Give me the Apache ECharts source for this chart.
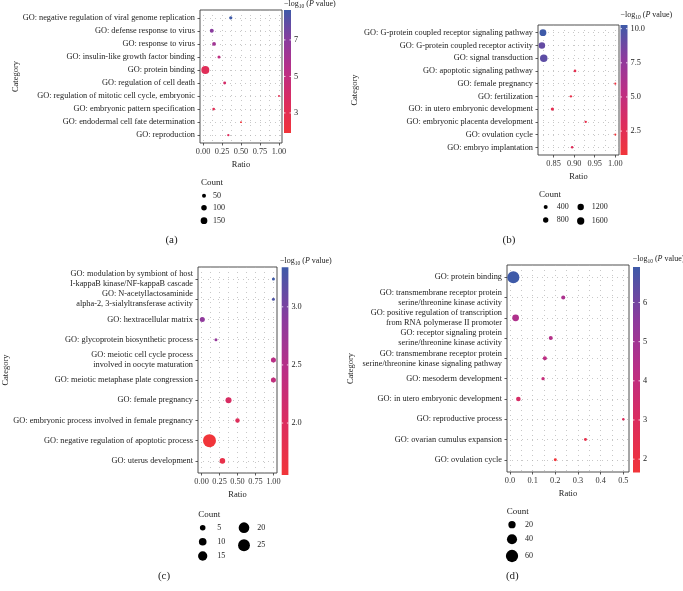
<!DOCTYPE html>
<html><head><meta charset="utf-8">
<script src="https://cdn.jsdelivr.net/npm/echarts@6/dist/echarts.min.js"></script>
<style>html,body{margin:0;padding:0;background:#fff}#c{width:683px;height:591px}</style>
</head><body><div id="c"></div>
<script>
// ---------- DATA ----------
const catsA = ['GO: negative regulation of viral genome replication','GO: defense response to virus','GO: response to virus','GO: insulin-like growth factor binding','GO: protein binding','GO: regulation of cell death','GO: regulation of mitotic cell cycle, embryonic','GO: embryonic pattern specification','GO: endodermal cell fate determination','GO: reproduction'];
const ratioA = [0.365, 0.115, 0.145, 0.21, 0.03, 0.285, 1.0, 0.14, 0.5, 0.333];
const countA = [32, 50, 45, 26, 215, 25, 8, 20, 8, 13];
const logpA  = [8.64, 7.0, 6.2, 5.0, 3.3, 4.0, 3.0, 3.2, 1.9, 3.5];
const xTicksA = [0, 0.25, 0.5, 0.75, 1];
const colorTicksA = [3, 5, 7];
const sizeBreaksA = [50, 100, 150];

const catsB = ['GO: G-protein coupled receptor signaling pathway','GO: G-protein coupled receptor activity','GO: signal transduction','GO: apoptotic signaling pathway','GO: female pregnancy','GO: fertilization','GO: in utero embryonic development','GO: embryonic placenta development','GO: ovulation cycle','GO: embryo implantation'];
const ratioB = [0.824, 0.8215, 0.826, 0.902, 1.0, 0.892, 0.847, 0.928, 1.0, 0.895];
const countB = [1400, 1250, 1700, 90, 10, 60, 220, 60, 10, 70];
const logpB  = [10.27, 9.1, 9.3, 2.2, 1.2, 1.9, 2.3, 2.0, 0.75, 2.8];
const xTicksB = [0.85, 0.9, 0.95, 1.0];
const colorTicksB = [2.5, 5.0, 7.5, 10.0];
const sizeBreaksB = [400, 800, 1200, 1600];

const catsC = ['GO: modulation by symbiont of host\nI-kappaB kinase/NF-kappaB cascade','GO: N-acetyllactosaminide\nalpha-2, 3-sialyltransferase activity','GO: hextracellular matrix','GO: glycoprotein biosynthetic process','GO: meiotic cell cycle process\ninvolved in oocyte maturation','GO: meiotic metaphase plate congression','GO: female pregnancy','GO: embryonic process involved in female pregnancy','GO: negative regulation of apoptotic process','GO: uterus development'];
const ratioC = [1.0, 1.0, 0.01, 0.2, 1.0, 1.0, 0.375, 0.5, 0.11, 0.29];
const countC = [1, 1, 4, 1, 4, 4, 6, 3, 30, 5];
const logpC  = [3.34, 3.25, 2.85, 2.8, 2.45, 2.35, 2.05, 1.95, 1.553, 1.75];
const xTicksC = [0, 0.25, 0.5, 0.75, 1];
const colorTicksC = [2.0, 2.5, 3.0];
const sizeBreaksC = [5, 10, 15, 20, 25];

const catsD = ['GO: protein binding','GO: transmembrane receptor protein\nserine/threonine kinase activity','GO: positive regulation of transcription\nfrom RNA polymerase II promoter','GO: receptor signaling protein\nserine/threonine kinase activity','GO: transmembrane receptor protein\nserine/threonine kinase signaling pathway','GO: mesoderm development','GO: in utero embryonic development','GO: reproductive process','GO: ovarian cumulus expansion','GO: ovulation cycle'];
const ratioD = [0.015, 0.235, 0.025, 0.18, 0.154, 0.146, 0.037, 0.5, 0.333, 0.2];
const countD = [58, 5, 17, 5, 5, 3, 7, 1, 2, 2];
const logpD  = [6.907, 4.7, 4.6, 4.45, 4.2, 3.9, 3.2, 2.9, 2.3, 1.659];
const xTicksD = [0, 0.1, 0.2, 0.3, 0.4, 0.5];
const colorTicksD = [2, 3, 4, 5, 6];
const sizeBreaksD = [20, 40, 60];

// ---------- STYLE / LAYOUT ----------
const FONT = '"Liberation Serif", "DejaVu Serif", serif';
const GRAD = ['#f1353a', '#dc2c5e', '#bb2e86', '#8b3b9e', '#3e5aa8']; // low -> high
const gridLine = {color:'#b0b0b0', width:0.7, type:[1,4]};

const panels = [
 {cats:catsA, ratio:ratioA, count:countA, logp:logpA, xTicks:xTicksA, xDec:2, xMin:-0.04, xMax:1.04,
  box:[200,10,82,133], sz:[1.5,0.29], bar:[284,10,7,123], cTicks:colorTicksA, cDec:0, title:[284,4],
  breaks:sizeBreaksA, legTitle:[201,183], legDots:[[204,195.7],[204,207.7],[204,220.7]], legLabX:[213,213,213],
  ycat:[15.5,76.5], tag:['(a)',171.5,240]},
 {cats:catsB, ratio:ratioB, count:countB, logp:logpB, xTicks:xTicksB, xDec:2, xMin:0.812, xMax:1.009,
  box:[538,25,81,130], sz:[4,0.0306], bar:[620.5,25,7,130], cTicks:colorTicksB, cDec:1, title:[620.5,15],
  breaks:sizeBreaksB, legTitle:[539,195], legDots:[[545.7,207],[545.7,220],[580.7,207],[580.7,221]], legLabX:[556.7,556.7,591.7,591.7],
  ycat:[355,90], tag:['(b)',509,240]},
 {cats:catsC, ratio:ratioC, count:countC, logp:logpC, xTicks:xTicksC, xDec:2, xMin:-0.05, xMax:1.05,
  box:[198,267,79,206], sz:[3.5,5.5], bar:[281.7,267.3,6.7,207.7], cTicks:colorTicksC, cDec:1, title:[280,260.7],
  breaks:sizeBreaksC, legTitle:[198.3,515], legDots:[[202.7,527.7],[202.7,541.7],[202.7,556],[244,527.7],[244,545.3]], legLabX:[217.3,217.3,217.3,257.3,257.3],
  ycat:[6,370], tag:['(c)',164,575.7]},
 {cats:catsD, ratio:ratioD, count:countD, logp:logpD, xTicks:xTicksD, xDec:1, xMin:-0.013, xMax:0.525,
  box:[507,265,122,207], sz:[4,2.45], bar:[633,267,7,205.5], cTicks:colorTicksD, cDec:0, title:[632.7,259.3],
  breaks:sizeBreaksD, legTitle:[506.7,512], legDots:[[512,524.7],[512,539.3],[512,556]], legLabX:[525,525,525],
  ycat:[351,368.5], tag:['(d)',512.3,575.7]}
];

const mctx = document.createElement('canvas').getContext('2d');
function tw(txt, font){ mctx.font = font; return mctx.measureText(txt).width; }

const chart = echarts.init(document.getElementById('c'), null, {renderer:'canvas'});
const option = {animation:false, backgroundColor:'#fff', grid:[], xAxis:[], yAxis:[], series:[], visualMap:[], graphic:{elements:[]}};
const G = option.graphic.elements;

function txt(x, y, s, font, align, valign, fill, extra){
  return Object.assign({type:'text', x:x, y:y, silent:true,
    style:{text:s, font:font, fill:fill||'#222', align:align||'left', verticalAlign:valign||'middle', textAlign:align||'left', textVerticalAlign:valign||'middle'}}, extra||{});
}

panels.forEach((p,i)=>{
  const [L,T,W,H] = p.box;
  const n = p.cats.length;
  const idx = p.cats.map((_,j)=>j);
  const step = p.xTicks[1]-p.xTicks[0];
  const minor = [];
  for (let k=0;k<p.xTicks.length+1;k++){ const v = p.xTicks[0] + (k-0.5)*step; if (v>p.xMin && v<p.xMax) minor.push(+v.toFixed(4)); }
  const cmin = Math.min(...p.logp), cmax = Math.max(...p.logp);

  option.grid.push({left:L, top:T, width:W, height:H, show:true, borderColor:'#3a3a3a', borderWidth:0.9, backgroundColor:'transparent'});
  option.xAxis.push({type:'value', gridIndex:i, min:p.xMin, max:p.xMax, position:'bottom',
    axisLine:{show:false, onZero:false},
    axisTick:{show:true, length:2.5, customValues:p.xTicks, lineStyle:{color:'#333', width:0.8}},
    axisLabel:{customValues:p.xTicks, formatter:v=>Number(v).toFixed(p.xDec), fontFamily:FONT, fontSize:8.3, color:'#333', margin:5},
    splitLine:{show:true, lineStyle:gridLine},
    name:'Ratio', nameLocation:'middle', nameGap:17, nameTextStyle:{fontFamily:FONT, fontSize:8.5, color:'#222'}});
  option.xAxis.push({type:'value', gridIndex:i, min:p.xMin, max:p.xMax, position:'top',
    axisLine:{show:false, onZero:false}, axisTick:{show:false, customValues:minor}, axisLabel:{show:false, customValues:minor},
    splitLine:{show:true, lineStyle:gridLine}});
  option.yAxis.push({type:'value', gridIndex:i, min:-0.6, max:n-1+0.6, inverse:true,
    axisLine:{show:false, onZero:false},
    axisTick:{show:true, length:2.5, customValues:idx, lineStyle:{color:'#333', width:0.8}},
    axisLabel:{customValues:idx, formatter:v=>p.cats[Math.round(v)], fontFamily:FONT, fontSize:8.3, lineHeight:10, color:'#222', margin:5},
    splitLine:{show:true, lineStyle:gridLine}});
  option.series.push({type:'scatter', xAxisIndex:2*i, yAxisIndex:i, silent:true,
    data:p.cats.map((c,j)=>[p.ratio[j], j, p.count[j], p.logp[j]]),
    symbolSize:v=>Math.sqrt(p.sz[0]+p.sz[1]*v[2]),
    itemStyle:{opacity:1}});
  option.visualMap.push({type:'continuous', show:false, seriesIndex:i, dimension:3, min:cmin, max:cmax, inRange:{color:GRAD}});

  // colour bar
  const [bx,by,bw,bh] = p.bar;
  const stops = GRAD.slice().reverse().map((c,k)=>({offset:k/(GRAD.length-1), color:c}));
  G.push({type:'rect', silent:true, shape:{x:bx, y:by, width:bw, height:bh}, style:{fill:new echarts.graphic.LinearGradient(0,0,0,1,stops)}});
  p.cTicks.forEach(v=>{
    const yy = by + bh*(1-(v-cmin)/(cmax-cmin));
    G.push({type:'line', silent:true, shape:{x1:bx, y1:yy, x2:bx+1.5, y2:yy}, style:{stroke:'#fff', lineWidth:0.8}});
    G.push({type:'line', silent:true, shape:{x1:bx+bw-1.5, y1:yy, x2:bx+bw, y2:yy}, style:{stroke:'#fff', lineWidth:0.8}});
    G.push(txt(bx+bw+3, yy, v.toFixed(p.cDec), '8.3px '+FONT, 'left', 'middle', '#222'));
  });
  // colour bar title: −log10 (P value)
  let tx = p.title[0]; const ty = p.title[1];
  const parts = [['−log','8px '+FONT,0],['10','5.5px '+FONT,2.5],[' (','8px '+FONT,0],['P','italic 8px '+FONT,0],[' value)','8px '+FONT,0]];
  parts.forEach(([s,f,dy])=>{ G.push(txt(tx, ty+dy, s, f, 'left', 'middle', '#222')); tx += tw(s,f); });

  // y axis title
  G.push(txt(p.ycat[0], p.ycat[1], 'Category', '8.5px '+FONT, 'center', 'middle', '#222', {rotation:Math.PI/2}));

  // size legend
  G.push(txt(p.legTitle[0], p.legTitle[1], 'Count', '9px '+FONT, 'left', 'middle', '#222'));
  p.breaks.forEach((b,k)=>{
    const [cx,cy] = p.legDots[k];
    G.push({type:'circle', silent:true, shape:{cx:cx, cy:cy, r:Math.sqrt(p.sz[0]+p.sz[1]*b)/2}, style:{fill:'#000'}});
    G.push(txt(p.legLabX[k], cy, String(b), '8px '+FONT, 'left', 'middle', '#222'));
  });

  // panel tag
  G.push(txt(p.tag[1], p.tag[2], p.tag[0], '11px '+FONT, 'center', 'middle', '#222'));
});

chart.setOption(option);
</script>
</body></html>
